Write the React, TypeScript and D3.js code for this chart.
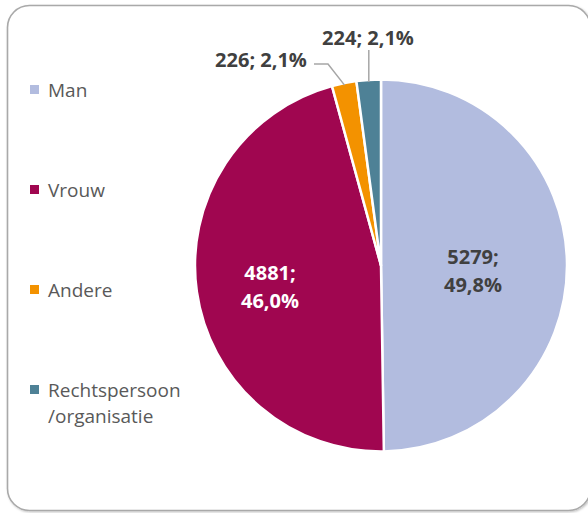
import React from "react";
import * as d3 from "d3";

const categories = ["Man", "Vrouw", "Andere", "Rechtspersoon /organisatie"];
const values = [5279, 4881, 226, 224];
const percentLabels = ["49,8%", "46,0%", "2,1%", "2,1%"];
const colors = ["#b2bcdf", "#a00650", "#f39200", "#4e8196"];

const W = 588;
const H = 513;
const cx = 381;
const cy = 265.5;
const R = 186;
const FONT = "'Open Sans', 'DejaVu Sans', sans-serif";

export default function App() {
  const pie = d3.pie<number>().sort(null).startAngle(0).endAngle(2 * Math.PI);
  const arcs = pie(values);
  const arc = d3.arc<d3.PieArcDatum<number>>().innerRadius(0).outerRadius(R);
  const edgeArc = d3.arc<d3.PieArcDatum<number>>().innerRadius(R - 2).outerRadius(R - 2);

  const insideLabel = [
    { x: 473, y: 264, fill: "#404040" },
    { x: 270, y: 280, fill: "#ffffff" },
  ];

  const edge2 = edgeArc.centroid(arcs[2]);
  const edge3 = edgeArc.centroid(arcs[3]);

  const legendY = [90, 190, 290, 390];

  return (
    <svg width={W} height={H} style={{ position: "absolute", left: 0, top: 0, display: "block" }}>
      <defs>
        <filter id="sh" x="-5%" y="-5%" width="110%" height="110%">
          <feDropShadow dx="1" dy="1" stdDeviation="1.2" floodColor="#000" floodOpacity="0.25" />
        </filter>
      </defs>
      <rect x={7.5} y={5.5} width={583} height={505} rx={22} ry={22} fill="#fff" stroke="#a9a9a9" strokeWidth={1.6} filter="url(#sh)" />

      <g transform={`translate(${cx},${cy})`}>
        {arcs.map((a, i) => (
          <path key={i} d={arc(a) || ""} fill={colors[i]} stroke="#fff" strokeWidth={2.5} strokeLinejoin="round" />
        ))}
      </g>

      {insideLabel.map((l, i) => (
        <text key={i} x={l.x} fontFamily={FONT} fontWeight={700} fontSize={20} fill={l.fill} textAnchor="middle">
          <tspan x={l.x} y={l.y}>{`${values[i]};`}</tspan>
          <tspan x={l.x} y={l.y + 28}>{percentLabels[i]}</tspan>
        </text>
      ))}

      <polyline
        points={`${cx + edge2[0]},${cy + edge2[1]} 328,64 314,64`}
        fill="none"
        stroke="#a6a6a6"
        strokeWidth={1.5}
      />
      <polyline
        points={`${cx + edge3[0]},${cy + edge3[1]} ${cx + edge3[0]},50`}
        fill="none"
        stroke="#a6a6a6"
        strokeWidth={1.5}
      />
      <text x={261} y={67} fontFamily={FONT} fontWeight={700} fontSize={20} fill="#404040" textAnchor="middle">
        {`${values[2]}; ${percentLabels[2]}`}
      </text>
      <text x={368} y={45} fontFamily={FONT} fontWeight={700} fontSize={20} fill="#404040" textAnchor="middle">
        {`${values[3]}; ${percentLabels[3]}`}
      </text>

      {categories.map((c, i) => {
        const parts = c.split(" ");
        return (
          <g key={c}>
            <rect x={30} y={legendY[i] - 5} width={9} height={9} fill={colors[i]} />
            <text fontFamily={FONT} fontSize={19} fill="#595959">
              {parts.map((p, j) => (
                <tspan key={j} x={48} y={legendY[i] + 7 + j * 26}>{p}</tspan>
              ))}
            </text>
          </g>
        );
      })}
    </svg>
  );
}
